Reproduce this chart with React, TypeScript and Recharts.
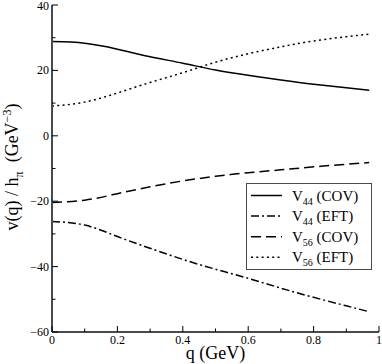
import React from 'react';
import { LineChart, Line, XAxis, YAxis, Legend, Label } from 'recharts';

const Q = [0, 0.1, 0.2, 0.3, 0.4, 0.5, 0.6, 0.7, 0.8, 0.9, 0.97];
const V44_COV = [28.8, 28.3, 26.5, 24.2, 22.2, 20.1, 18.5, 17.1, 15.8, 14.7, 13.9];
const V44_EFT = [-26.2, -27.3, -30.8, -34.4, -37.8, -40.8, -43.6, -46.6, -49.4, -52.0, -53.8];
const V56_COV = [-20.4, -19.7, -17.7, -15.6, -13.8, -12.4, -11.3, -10.4, -9.5, -8.7, -8.2];
const V56_EFT = [9.1, 10.3, 13.1, 16.3, 19.3, 22.5, 25.1, 27.2, 29.0, 30.3, 31.1];

const X_TICKS = [0, 0.1, 0.2, 0.3, 0.4, 0.5, 0.6, 0.7, 0.8, 0.9, 1];
const X_LABELS = ['0', '', '0.2', '', '0.4', '', '0.6', '', '0.8', '', '1'];
const Y_TICKS = [-60, -50, -40, -30, -20, -10, 0, 10, 20, 30, 40];
const Y_LABELS = ['\u221260', '', '\u221240', '', '\u221220', '', '0', '', '20', '', '40'];

const SERIES = [
  { key: 'v44cov', name: '44', tag: '(COV)', dash: undefined },
  { key: 'v44eft', name: '44', tag: '(EFT)', dash: '8 3 2 3' },
  { key: 'v56cov', name: '56', tag: '(COV)', dash: '10 5' },
  { key: 'v56eft', name: '56', tag: '(EFT)', dash: '2 3.3' },
];

const data = Q.map((q, i) => ({
  q,
  v44cov: V44_COV[i],
  v44eft: V44_EFT[i],
  v56cov: V56_COV[i],
  v56eft: V56_EFT[i],
}));

const FONT = '"Liberation Serif", "Times New Roman", serif';
const FRAME = '#4a4a4a';

const idx = (arr: number[], v: number) => arr.findIndex((t) => Math.abs(t - v) < 1e-6);

const BottomTick = (p: any) => {
  const i = idx(X_TICKS, p.payload.value);
  const lab = X_LABELS[i];
  return (
    <g>
      <line x1={p.x} x2={p.x} y1={p.y} y2={p.y - (lab ? 6 : 3.5)} stroke="#000" strokeWidth={1} />
      {lab && (
        <text x={p.x} y={p.y + 12} textAnchor="middle" fontSize={12} fontFamily={FONT} fill="#000">
          {lab}
        </text>
      )}
    </g>
  );
};

const TopTick = (p: any) => {
  const i = idx(X_TICKS, p.payload.value);
  const lab = X_LABELS[i];
  return <line x1={p.x} x2={p.x} y1={p.y} y2={p.y + (lab ? 6 : 3.5)} stroke="#000" strokeWidth={1} />;
};

const LeftTick = (p: any) => {
  const i = idx(Y_TICKS, p.payload.value);
  const lab = Y_LABELS[i];
  // keep the topmost label inside the picture
  const ty = Math.max(p.y + 4, 10);
  return (
    <g>
      <line x1={p.x} x2={p.x + (lab ? 6 : 3.5)} y1={p.y} y2={p.y} stroke="#000" strokeWidth={1} />
      {lab && (
        <text x={p.x - 3} y={ty} textAnchor="end" fontSize={12} fontFamily={FONT} fill="#000">
          {lab}
        </text>
      )}
    </g>
  );
};

const RightTick = (p: any) => {
  const i = idx(Y_TICKS, p.payload.value);
  const lab = Y_LABELS[i];
  return <line x1={p.x} x2={p.x - (lab ? 6 : 3.5)} y1={p.y} y2={p.y} stroke="#000" strokeWidth={1} />;
};

const LegendBox = () => (
  <svg width={127} height={88} style={{ display: 'block' }}>
    <rect x={0.5} y={0.5} width={125} height={86} fill="#fff" stroke={FRAME} strokeWidth={1} />
    {SERIES.map((s, i) => {
      const cy = 12.5 + i * 20.6;
      return (
        <g key={s.key}>
          <line x1={5} x2={36} y1={cy} y2={cy} stroke="#000" strokeWidth={1.5} strokeDasharray={s.dash} />
          <text x={46} y={cy + 5} fontSize={15} fontFamily={FONT} fill="#000">
            <tspan>V</tspan>
            <tspan dy={4} fontSize={10}>{s.name}</tspan>
            <tspan dy={-4}> {s.tag}</tspan>
          </text>
        </g>
      );
    })}
  </svg>
);

export default function App() {
  return (
    <div style={{ position: 'absolute', left: 0, top: 0, background: '#fff' }}>
      <LineChart width={382} height={364} data={data} margin={{ top: 5, right: 3, left: 0, bottom: 0 }}>
        <XAxis
          dataKey="q"
          type="number"
          domain={[0, 1]}
          ticks={X_TICKS}
          interval={0}
          height={32}
          tickSize={0}
          tickMargin={0}
          tickLine={false}
          tick={<BottomTick />}
          axisLine={{ stroke: FRAME, strokeWidth: 2 }}
        >
          <Label
            content={() => (
              <text x={215.5} y={359} textAnchor="middle" fontSize={18} fontFamily={FONT} fill="#000">
                q (GeV)
              </text>
            )}
          />
        </XAxis>
        <XAxis
          xAxisId="top"
          orientation="top"
          dataKey="q"
          type="number"
          domain={[0, 1]}
          ticks={X_TICKS}
          interval={0}
          height={0}
          tickSize={0}
          tickMargin={0}
          tickLine={false}
          tick={<TopTick />}
          axisLine={{ stroke: FRAME, strokeWidth: 2 }}
        />
        <YAxis
          type="number"
          domain={[-60, 40]}
          ticks={Y_TICKS}
          interval={0}
          width={52}
          tickSize={0}
          tickMargin={0}
          tickLine={false}
          tick={<LeftTick />}
          axisLine={{ stroke: FRAME, strokeWidth: 2 }}
        >
          <Label
            content={() => (
              <text
                x={18}
                y={167}
                transform="rotate(-90 18 167)"
                textAnchor="middle"
                fontSize={18}
                fontFamily={FONT}
                fill="#000"
              >
                <tspan>v(q) / h</tspan>
                <tspan dy={5} fontSize={12}>π</tspan>
                <tspan dy={-5}>{'\u00a0\u00a0(GeV'}</tspan>
                <tspan dy={-7} fontSize={12}>−3</tspan>
                <tspan dy={7}>)</tspan>
              </text>
            )}
          />
        </YAxis>
        <YAxis
          yAxisId="right"
          orientation="right"
          type="number"
          domain={[-60, 40]}
          ticks={Y_TICKS}
          interval={0}
          width={0}
          tickSize={0}
          tickMargin={0}
          tickLine={false}
          tick={<RightTick />}
          axisLine={{ stroke: FRAME, strokeWidth: 2 }}
        />
        <Legend
          layout="horizontal"
          verticalAlign="middle"
          align="center"
          wrapperStyle={{ position: 'absolute', left: 246, top: 183, width: 127, height: 88 }}
          content={() => <LegendBox />}
        />
        {SERIES.map((s) => (
          <Line
            key={s.key}
            dataKey={s.key}
            type="natural"
            stroke="#000"
            strokeWidth={1.5}
            strokeDasharray={s.dash}
            dot={false}
            activeDot={false}
            isAnimationActive={false}
          />
        ))}
      </LineChart>
    </div>
  );
}
